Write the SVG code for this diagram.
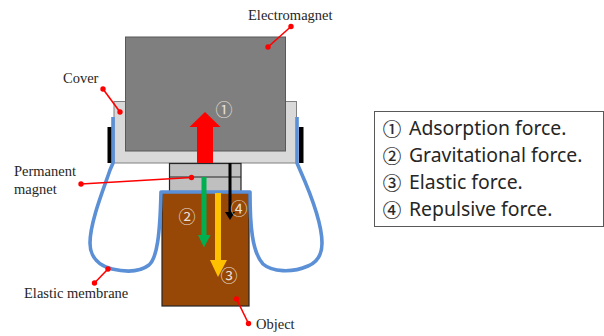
<svg xmlns="http://www.w3.org/2000/svg" width="604" height="336" viewBox="0 0 604 336">
<style>
.lbl{font-family:"Liberation Serif",serif;font-size:14.500px;fill:#262626}
.leg{font-family:"Noto Sans","Noto Sans CJK JP",sans-serif;font-size:19.400px;fill:#262626}
.circ{font-family:"Noto Sans CJK JP",sans-serif;font-size:18.500px;fill:#262626;text-anchor:middle;stroke:#262626;stroke-width:0.200}
.num{font-family:"Noto Sans CJK JP",sans-serif;font-size:17px;fill:#e8e0d8;text-anchor:middle}
.lead{stroke:#ff0000;stroke-width:1.600;fill:none}
.dot{fill:#ff0000}
.mem{fill:none;stroke:#5b8fd6;stroke-width:3.600;stroke-linejoin:round}
</style>
<rect width="604" height="336" fill="#fff"/>
<g id="cover"><rect x="114" y="101.500" width="182.500" height="61.500" fill="#d9d9d9" stroke="#808080" stroke-width="1"/></g>
<g id="pads"><rect x="107.500" y="127" width="5" height="36" fill="#000"/><rect x="299" y="127" width="4.500" height="36" fill="#000"/></g>
<g id="electromagnet"><rect x="125.500" y="37" width="160" height="114" fill="#7f7f7f" stroke="#595959" stroke-width="1"/></g>
<g id="permanent-magnet"><rect x="169.500" y="163.500" width="71.500" height="29" fill="#bfbfbf" stroke="#262626" stroke-width="1.200"/><line x1="169.500" y1="177" x2="241" y2="177" stroke="#262626" stroke-width="1.200"/></g>
<g id="object"><rect x="162" y="192" width="87" height="114" fill="#974706" stroke="#262626" stroke-width="1.200"/></g>
<g id="membrane">
<path class="mem" d="M113 117V163L110 170C104 188 90 222 90 243C90 258 100 266 112 269C125 272 140 272 149 265C157 258 160 235 161 192H250C250 225 252 252 263 264C272 272 292 273 308 266C318 262 322 254 322 243C322 222 308 188 300 170L297 163V117"/>
</g>
<g id="connectors">
<path d="M197 163V127H189.500L205 112L220.500 127H213V163Z" fill="#ff0000"/>
<path d="M201.500 177H206.500V235H210.500L204 247.500L198 235H201.500Z" fill="#00b050"/>
<path d="M215 193H221V260H227L218 277L210 260H215Z" fill="#ffc000"/>
<path d="M228.500 163H231.500V212H235L230 220L225 212H228.500Z" fill="#000"/>
<line class="lead" x1="103" y1="89" x2="120" y2="112"/><circle class="dot" cx="103" cy="89" r="2.700"/><circle class="dot" cx="120" cy="112" r="2.700"/>
<line class="lead" x1="291" y1="26.500" x2="268" y2="47"/><circle class="dot" cx="291" cy="26.500" r="2.700"/><circle class="dot" cx="268" cy="47" r="2.700"/>
<line class="lead" x1="81" y1="184" x2="191.500" y2="177.500"/><circle class="dot" cx="81" cy="184" r="2.700"/><circle class="dot" cx="191.500" cy="177.500" r="2.700"/>
<line class="lead" x1="94.500" y1="283" x2="108" y2="269"/><circle class="dot" cx="94.500" cy="283" r="2.700"/><circle class="dot" cx="108" cy="269" r="2.700"/>
<line class="lead" x1="236.500" y1="299" x2="248.500" y2="323.500"/><circle class="dot" cx="236.500" cy="299" r="2.700"/><circle class="dot" cx="248.500" cy="323.500" r="2.700"/>
</g>
<g id="labels">
<text class="lbl" x="63" y="83">Cover</text>
<text class="lbl" x="248" y="20">Electromagnet</text>
<text class="lbl" x="14" y="176">Permanent</text>
<text class="lbl" x="14" y="194">magnet</text>
<text class="lbl" x="24" y="298">Elastic membrane</text>
<text class="lbl" x="256" y="329">Object</text>
<text class="num" x="224" y="116">①</text>
<text class="num" x="187" y="223">②</text>
<text class="num" x="229" y="282">③</text>
<text class="num" x="239" y="215">④</text>
</g>
<g id="legend">
<rect x="374.500" y="111.500" width="229" height="115" fill="#fff" stroke="#595959" stroke-width="1"/>
<text class="circ" x="392" y="136">①</text><text class="leg" x="409" y="135">Adsorption force.</text>
<text class="circ" x="392" y="163">②</text><text class="leg" x="409" y="162">Gravitational force.</text>
<text class="circ" x="392" y="190">③</text><text class="leg" x="409" y="189">Elastic force.</text>
<text class="circ" x="392" y="217">④</text><text class="leg" x="409" y="216">Repulsive force.</text>
</g>
</svg>
